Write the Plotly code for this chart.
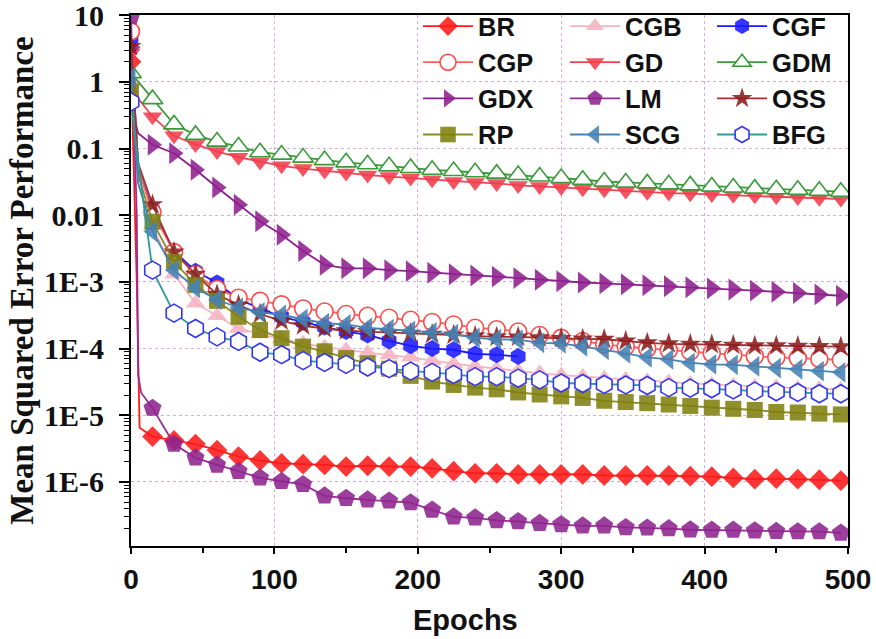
import plotly.graph_objects as go

# Epochs at which each training run was sampled (one marker per sample)
SAMPLE_EPOCHS = list(range(0, 500, 15))  # 0, 15, ..., 495

# Mean squared error per sampled epoch for every training algorithm
br_mse = [2.0, 4.8e-6, 4.2e-6, 3.7e-6, 3.0e-6, 2.4e-6, 2.1e-6, 1.9e-6, 1.85e-6, 1.8e-6,
          1.7e-6, 1.75e-6, 1.7e-6, 1.7e-6, 1.6e-6, 1.45e-6, 1.35e-6, 1.35e-6, 1.3e-6, 1.3e-6,
          1.3e-6, 1.3e-6, 1.25e-6, 1.25e-6, 1.25e-6, 1.25e-6, 1.22e-6, 1.2e-6, 1.15e-6, 1.1e-6,
          1.12e-6, 1.1e-6, 1.08e-6, 1.05e-6]
cgb_mse = [1.0, 7e-3, 1.3e-3, 4.8e-4, 3.1e-4, 2.0e-4, 1.65e-4, 1.4e-4, 1.2e-4, 1.05e-4,
           9.5e-5, 8.7e-5, 8.0e-5, 7.4e-5, 6.6e-5, 5.9e-5, 5.4e-5, 5.0e-5, 4.6e-5, 4.3e-5,
           4.0e-5, 3.8e-5, 3.6e-5, 3.45e-5, 3.3e-5, 3.15e-5, 3.0e-5, 2.9e-5, 2.8e-5, 2.7e-5,
           2.65e-5, 2.55e-5, 2.5e-5, 2.45e-5]
cgf_mse = [4.5, 1.2e-2, 2.9e-3, 1.45e-3, 9.6e-4, 5.5e-4, 4.0e-4, 3.0e-4, 2.5e-4, 2.1e-4,
           1.8e-4, 1.6e-4, 1.3e-4, 1.1e-4, 1.0e-4, 9.6e-5, 8.3e-5, 8.1e-5, 7.6e-5]
cgp_mse = [5.7, 1.1e-2, 2.8e-3, 1.3e-3, 7.8e-4, 5.8e-4, 5.2e-4, 4.6e-4, 4.0e-4, 3.6e-4,
           3.3e-4, 3.1e-4, 2.9e-4, 2.7e-4, 2.5e-4, 2.3e-4, 2.05e-4, 1.95e-4, 1.8e-4, 1.6e-4,
           1.45e-4, 1.3e-4, 1.15e-4, 1.07e-4, 1.0e-4, 9.5e-5, 9.0e-5, 8.5e-5, 8.0e-5, 7.7e-5,
           7.4e-5, 7.2e-5, 7.0e-5, 6.8e-5]
gd_mse = [2.7, 0.30, 0.155, 0.115, 0.09, 0.074, 0.063, 0.055, 0.050, 0.046,
          0.043, 0.040, 0.038, 0.036, 0.034, 0.032, 0.031, 0.030, 0.028, 0.027,
          0.026, 0.025, 0.024, 0.023, 0.022, 0.0215, 0.021, 0.0205, 0.020, 0.0195,
          0.019, 0.0185, 0.018, 0.0175]
gdm_mse = [1.35, 0.55, 0.23, 0.16, 0.127, 0.107, 0.088, 0.081, 0.073, 0.067,
           0.062, 0.058, 0.054, 0.051, 0.048, 0.046, 0.044, 0.042, 0.040, 0.038,
           0.036, 0.034, 0.032, 0.031, 0.030, 0.029, 0.028, 0.027, 0.026, 0.025,
           0.0245, 0.024, 0.0232, 0.0225]
gdx_mse = [3.3, 0.114, 0.085, 0.048, 0.026, 0.0144, 0.0081, 0.0051, 0.0029, 0.0018,
           0.0016, 0.0016, 0.0015, 0.00145, 0.00137, 0.0013, 0.00125, 0.0012, 0.00114, 0.00108,
           0.00102, 0.00098, 0.00095, 0.00092, 0.00089, 0.00086, 0.00083, 0.0008, 0.00077, 0.00074,
           0.00071, 0.00068, 0.00065, 0.00062]
lm_mse = [9.5, 1.28e-5, 3.7e-6, 2.3e-6, 1.8e-6, 1.45e-6, 1.15e-6, 1.02e-6, 9.2e-7, 6.2e-7,
          5.7e-7, 5.4e-7, 5.2e-7, 4.9e-7, 3.8e-7, 3.0e-7, 2.9e-7, 2.65e-7, 2.55e-7, 2.4e-7,
          2.3e-7, 2.2e-7, 2.2e-7, 2.08e-7, 2.05e-7, 2.0e-7, 1.92e-7, 1.9e-7, 1.9e-7, 1.86e-7,
          1.82e-7, 1.8e-7, 1.8e-7, 1.72e-7]
oss_mse = [3.4, 1.44e-2, 2.8e-3, 1.3e-3, 6.5e-4, 4.5e-4, 3.3e-4, 2.6e-4, 2.2e-4, 2.0e-4,
           1.85e-4, 1.8e-4, 1.75e-4, 1.7e-4, 1.65e-4, 1.6e-4, 1.55e-4, 1.5e-4, 1.5e-4, 1.45e-4,
           1.42e-4, 1.4e-4, 1.38e-4, 1.3e-4, 1.22e-4, 1.18e-4, 1.16e-4, 1.15e-4, 1.12e-4, 1.1e-4,
           1.1e-4, 1.09e-4, 1.08e-4, 1.07e-4]
rp_mse = [0.72, 8e-3, 2.0e-3, 9e-4, 5.2e-4, 3.0e-4, 1.9e-4, 1.43e-4, 1.07e-4, 9.1e-5,
          7.2e-5, 6.0e-5, 5.0e-5, 3.9e-5, 3.2e-5, 2.85e-5, 2.6e-5, 2.45e-5, 2.2e-5, 2.05e-5,
          1.92e-5, 1.82e-5, 1.65e-5, 1.58e-5, 1.52e-5, 1.45e-5, 1.38e-5, 1.3e-5, 1.25e-5, 1.2e-5,
          1.12e-5, 1.1e-5, 1.06e-5, 1.03e-5]
scg_mse = [1.15, 5.7e-3, 1.5e-3, 8.1e-4, 5.4e-4, 4.1e-4, 3.5e-4, 3.2e-4, 2.8e-4, 2.4e-4,
           2.3e-4, 2.05e-4, 1.95e-4, 1.85e-4, 1.75e-4, 1.65e-4, 1.45e-4, 1.38e-4, 1.36e-4, 1.22e-4,
           1.2e-4, 1.08e-4, 9.6e-5, 8.5e-5, 7.4e-5, 6.9e-5, 6.1e-5, 5.8e-5, 5.7e-5, 5.4e-5,
           5.1e-5, 4.9e-5, 4.6e-5, 4.4e-5]
bfg_mse = [0.5, 1.5e-3, 3.4e-4, 2.0e-4, 1.5e-4, 1.28e-4, 8.8e-5, 8.1e-5, 6.6e-5, 6.2e-5,
           5.8e-5, 5.3e-5, 5.0e-5, 4.6e-5, 4.4e-5, 4.1e-5, 3.8e-5, 3.8e-5, 3.6e-5, 3.4e-5,
           3.05e-5, 3.0e-5, 2.9e-5, 2.85e-5, 2.8e-5, 2.6e-5, 2.55e-5, 2.5e-5, 2.4e-5, 2.3e-5,
           2.25e-5, 2.2e-5, 2.1e-5, 2.1e-5]

# Extra unmarked points recorded during the first 15 epochs (steep initial drop)
br_early_epochs, br_early_mse = [4, 6], [1e-3, 6.5e-6]
cgb_early_epochs, cgb_early_mse = [5], [0.03]
cgf_early_epochs, cgf_early_mse = [5], [0.05]
cgp_early_epochs, cgp_early_mse = [5], [0.05]
gd_early_epochs, gd_early_mse = [4], [0.6]
gdm_early_epochs, gdm_early_mse = [], []
gdx_early_epochs, gdx_early_mse = [3, 5], [0.25, 0.17]
lm_early_epochs, lm_early_mse = [4, 5, 7], [1e-2, 4e-5, 2.2e-5]
oss_early_epochs, oss_early_mse = [5], [0.06]
rp_early_epochs, rp_early_mse = [5], [0.04]
scg_early_epochs, scg_early_mse = [5], [0.03]
bfg_early_epochs, bfg_early_mse = [4, 8], [0.1, 0.02]

# Axis tick labels
Y_TICK_VALUES = [1e-6, 1e-5, 1e-4, 1e-3, 0.01, 0.1, 1, 10]
Y_TICK_LABELS = ["1E-6", "1E-5", "1E-4", "1E-3", "0.01", "0.1", "1", "10"]

# name, data, early data, marker symbol, size, line colour, fill colour, outline colour
SERIES = [
    ("BR", br_mse, br_early_epochs, br_early_mse, "diamond", 16, "#ff1a1a", "#ff1a1a", None),
    ("CGB", cgb_mse, cgb_early_epochs, cgb_early_mse, "triangle-up", 17, "#f4b4c0", "#f4b4c0", None),
    ("CGF", cgf_mse, cgf_early_epochs, cgf_early_mse, "hexagon", 17, "#1a1aff", "#1a1aff", None),
    ("CGP", cgp_mse, cgp_early_epochs, cgp_early_mse, "circle", 17, "#ff6060", "white", "#ff4a4a"),
    ("GD", gd_mse, gd_early_epochs, gd_early_mse, "triangle-down", 17, "#f04452", "#f03c4c", None),
    ("GDM", gdm_mse, gdm_early_epochs, gdm_early_mse, "triangle-up", 18, "#3a9a3a", "white", "#3a9a3a"),
    ("GDX", gdx_mse, gdx_early_epochs, gdx_early_mse, "triangle-right", 19, "#8e208e", "#8e208e", None),
    ("LM", lm_mse, lm_early_epochs, lm_early_mse, "pentagon", 19, "#9a2c9a", "#8e248e", None),
    ("OSS", oss_mse, oss_early_epochs, oss_early_mse, "star", 16, "#a33232", "#8b1c1c", None),
    ("RP", rp_mse, rp_early_epochs, rp_early_mse, "square", 16, "#8a8a28", "#80800f", None),
    ("SCG", scg_mse, scg_early_epochs, scg_early_mse, "triangle-left", 18, "#4682b4", "#4682b4", None),
    ("BFG", bfg_mse, bfg_early_epochs, bfg_early_mse, "hexagon", 18, "#2a9a9a", "white", "#3636f0"),
]

# The key is laid out in three columns, filled row by row
LEGEND_IDS = ["legend", "legend2", "legend3"]

fig = go.Figure()

for i, (name, mse, early_x, early_y, symbol, size, line_col, fill_col, outline_col) in enumerate(SERIES):
    n = len(mse)
    xs = [SAMPLE_EPOCHS[0]] + early_x + SAMPLE_EPOCHS[1:n]
    ys = [mse[0]] + early_y + mse[1:]
    sizes = [size] + [0] * len(early_x) + [size] * (n - 1)
    if outline_col is None:
        marker = dict(symbol=symbol, size=sizes, color=fill_col, opacity=0.88,
                      line=dict(width=0))
    else:
        marker = dict(symbol=symbol, size=sizes, color=fill_col, opacity=1.0,
                      line=dict(width=1.6, color=outline_col))
    fig.add_trace(go.Scatter(
        x=xs, y=ys, name=name, mode="lines+markers",
        line=dict(color=line_col, width=1.8),
        marker=marker,
        legend=LEGEND_IDS[i % 3],
    ))

GRID = "#d9a8dc"
minor_y = [m * 10.0 ** e for e in range(-7, 1) for m in range(2, 10)]

fig.update_xaxes(
    range=[0, 500], tickmode="linear", tick0=0, dtick=100,
    ticks="outside", ticklen=6, tickwidth=1.5, tickcolor="black",
    minor=dict(dtick=50, ticks="outside", ticklen=5, tickwidth=1.5,
               tickcolor="black", showgrid=False),
    showgrid=True, gridcolor=GRID, griddash="dot", gridwidth=1,
    showline=True, linecolor="black", linewidth=2, mirror=True, zeroline=False,
    tickfont=dict(family="Liberation Sans", size=28, color="#111111", weight="bold"),
    ticklabelstandoff=1,
)

fig.update_yaxes(
    type="log", range=[-6.96, 1.002],
    tickmode="array", tickvals=Y_TICK_VALUES, ticktext=Y_TICK_LABELS,
    ticks="outside", ticklen=10, tickwidth=1.5, tickcolor="black",
    minor=dict(tickmode="array", tickvals=minor_y, ticks="outside", ticklen=5,
               tickwidth=1, tickcolor="black", showgrid=False),
    showgrid=True, gridcolor=GRID, griddash="dot", gridwidth=1,
    showline=True, linecolor="black", linewidth=2, mirror=True, zeroline=False,
    tickfont=dict(family="Liberation Serif", size=30, color="#111111", weight="bold"),
    ticklabelstandoff=9, ticklabeloverflow="allow",
    title=dict(text="Mean Squared Error Performance", standoff=0,
               font=dict(family="Liberation Serif", size=33, color="#111111", weight="bold")),
)

fig.add_annotation(
    text="Epochs", xref="paper", yref="paper", x=0.467, y=-0.139,
    xanchor="center", yanchor="middle", showarrow=False,
    font=dict(family="Liberation Sans", size=29, color="#111111", weight="bold"),
)

legend_font = dict(family="Liberation Sans", size=25.5, color="#111111", weight="bold")
legend_common = dict(orientation="v", yanchor="top", y=1.0226, xanchor="left",
                     itemwidth=50, bgcolor="rgba(0,0,0,0)", borderwidth=0,
                     traceorder="normal", font=legend_font)

fig.update_layout(
    width=876, height=639,
    margin=dict(l=131, r=28, t=15, b=93, autoexpand=False),
    paper_bgcolor="white", plot_bgcolor="white",
    showlegend=True,
    legend=dict(x=0.4003, **legend_common),
    legend2=dict(x=0.6053, **legend_common),
    legend3=dict(x=0.8104, **legend_common),
)

fig.write_html("out.html")
